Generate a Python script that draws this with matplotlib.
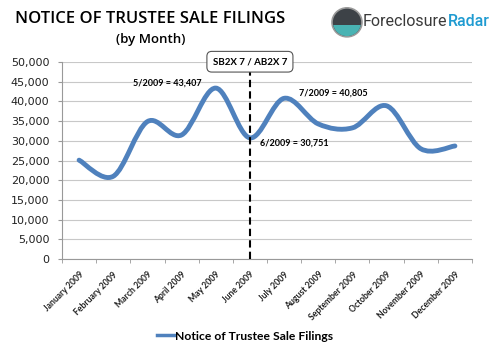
import numpy as np
import matplotlib
matplotlib.use("Agg")
import matplotlib.pyplot as plt
from matplotlib.path import Path
from matplotlib.patches import PathPatch, Ellipse, Rectangle
from matplotlib.lines import Line2D

# ----------------------------
# Data
# ----------------------------
months = ["January 2009", "February 2009", "March 2009", "April 2009",
          "May 2009", "June 2009", "July 2009", "August 2009",
          "September 2009", "October 2009", "November 2009", "December 2009"]
filings = [25100, 21000, 34900, 31500, 43407, 30751,
           40805, 34300, 33300, 38900, 28000, 28700]
yticks = [0, 5000, 10000, 15000, 20000, 25000, 30000, 35000, 40000, 45000, 50000]

LINE = "#4f81bd"
BOLD = ["Lato", "DejaVu Sans"]
SANS = ["Open Sans", "DejaVu Sans"]
LOGO = ["Roboto", "DejaVu Sans"]


def smooth_path(xs, ys):
    # Excel style smoothed line: cubic bezier through every point
    pts = np.column_stack([xs, ys]).astype(float)
    n = len(pts)
    verts = [pts[0]]
    codes = [Path.MOVETO]
    for i in range(n - 1):
        p0 = pts[max(i - 1, 0)]
        p1 = pts[i]
        p2 = pts[i + 1]
        p3 = pts[min(i + 2, n - 1)]
        c1 = p1 + (p2 - p0) / 6.0
        c2 = p2 - (p3 - p1) / 6.0
        verts += [c1, c2, p2]
        codes += [Path.CURVE4] * 3
    return Path(verts, codes)


fig = plt.figure(figsize=(5, 3.49), dpi=100)
ax = fig.add_axes([0.124, 0.258, 0.82, 0.564])

x = np.arange(len(months))
ax.add_patch(PathPatch(smooth_path(x, filings), fill=False, edgecolor=LINE,
                       lw=3.5, capstyle="round", joinstyle="round", zorder=3))

ax.set_xlim(-0.5, len(months) - 0.5)
ax.set_ylim(0, 50000)
ax.set_yticks(yticks)
ax.set_yticklabels([f"{v:,}" for v in yticks], fontsize=8, family="DejaVu Sans",
                   color="#222222")
ax.yaxis.grid(True, color="#c8c8c8", lw=0.8)
ax.set_axisbelow(True)

ax.set_xticks(x)
ax.set_xticklabels(months, rotation=45, ha="right", rotation_mode="anchor",
                   fontsize=6.2, family=BOLD, fontweight="bold", color="#222222")
ax.tick_params(axis="x", length=0, pad=8)
ax.set_xticks(np.arange(-0.5, len(months)), minor=True)
ax.tick_params(axis="x", which="minor", length=3, color="#999999")
ax.tick_params(axis="y", length=3, color="#999999", pad=6)

for s in ["top", "right"]:
    ax.spines[s].set_visible(False)
for s in ["left", "bottom"]:
    ax.spines[s].set_color("#999999")

# June marker
ax.plot([5, 5], [0, 50000], ls=(0, (3.5, 2)), color="black", lw=1.5,
        clip_on=False, zorder=4)
ax.text(5, 50100, "SB2X 7 / AB2X 7", ha="center", va="center", fontsize=7,
        family=BOLD, fontweight="bold", zorder=5,
        bbox=dict(boxstyle="round,pad=0.6,rounding_size=0.5", fc="white",
                  ec="#555555", lw=0.8))

ax.text(1.58, 44670, "5/2009 = 43,407", va="center", fontsize=6.5,
        family=BOLD, fontweight="bold")
ax.text(6.44, 42130, "7/2009 = 40,805", va="center", fontsize=6.5,
        family=BOLD, fontweight="bold")
ax.text(5.3, 29440, "6/2009 = 30,751", va="center", fontsize=6.5,
        family=BOLD, fontweight="bold")

# Titles
fig.text(0.30, 0.946, "NOTICE OF TRUSTEE SALE FILINGS", ha="center", va="center",
         fontsize=12, family=SANS, fontweight="semibold")
fig.text(0.302, 0.888, "(by Month)", ha="center", va="center",
         fontsize=9.5, family=SANS, fontweight="semibold")

# Logo
ball = Ellipse((0.694, 0.936), 0.06, 0.083, transform=fig.transFigure,
               fc="#3d4247", ec="#9a9a9a", lw=1.2, zorder=2)
fig.patches.append(ball)
teal = Ellipse((0.694, 0.936), 0.056, 0.079, transform=fig.transFigure,
               fc="#49b3b3", ec="none", zorder=3)
fig.patches.append(teal)
cut = Rectangle((0.6, 0.80), 0.2, 0.128, transform=fig.transFigure)
teal.set_clip_path(cut)
t1 = fig.text(0.726, 0.937, "Foreclosure", ha="left", va="center", fontsize=11.5,
              family=LOGO, color="#3a3a3a")
fig.add_artist(plt.Annotation("Radar", xy=(1, 0.5), xycoords=t1, va="center",
                              ha="left", fontsize=11.5, family=LOGO,
                              fontweight="medium", color="#1f9bd1"))

# Legend
handle = Line2D([], [], color=LINE, lw=2.5)
fig.legend([handle], ["Notice of Trustee Sale Filings"], loc="center",
           bbox_to_anchor=(0.49, 0.037), frameon=False, handlelength=1.4,
           handletextpad=0.1, prop={"family": BOLD, "weight": "bold", "size": 8.7})

fig.savefig("out.png", dpi=100)
